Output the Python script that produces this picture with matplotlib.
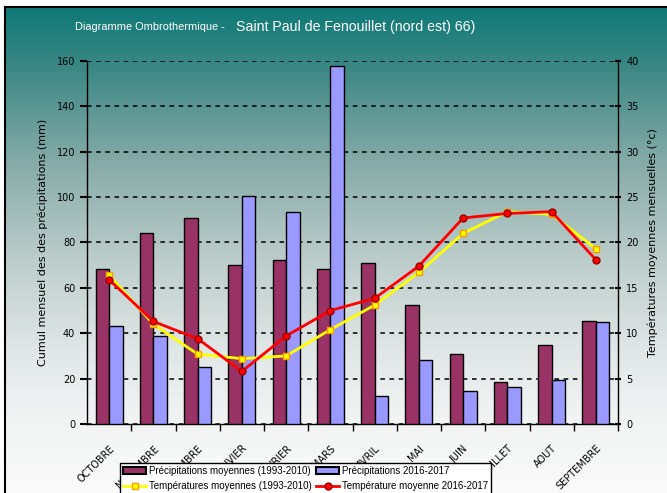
import numpy as np
import matplotlib
matplotlib.use("Agg")
import matplotlib.pyplot as plt
from matplotlib.colors import LinearSegmentedColormap
from matplotlib.lines import Line2D
from matplotlib.patches import Patch
from matplotlib import font_manager

months = ["OCTOBRE", "NOVEMBRE", "DECEMBRE", "JANVIER", "FEVRIER", "MARS",
          "AVRIL", "MAI", "JUIN", "JUILLET", "AOUT", "SEPTEMBRE"]
precip_mean = [68.2, 84.4, 90.6, 70.3, 72.5, 68.2, 70.8, 52.3, 30.7, 18.4, 34.7, 45.4]
precip_1617 = [43.2, 38.8, 25.1, 100.7, 93.3, 158.0, 12.2, 28.0, 14.5, 16.5, 19.4, 44.8]
temp_mean = [16.4, 11.0, 7.7, 7.2, 7.5, 10.4, 13.1, 16.7, 21.0, 23.4, 23.1, 19.3]
temp_1617 = [15.9, 11.3, 9.4, 5.8, 9.7, 12.5, 13.85, 17.4, 22.7, 23.2, 23.4, 18.1]

left_ticks = list(range(0, 161, 20))
right_ticks = list(range(0, 41, 5))

names = {f.name for f in font_manager.fontManager.ttflist}
NARROW = "Liberation Sans Narrow" if "Liberation Sans Narrow" in names else "Liberation Sans"
narrow_scale = 1.0 if NARROW == "Liberation Sans Narrow" else 0.83

W, H = 667, 493
fig = plt.figure(figsize=(W / 100, H / 100), dpi=100)
fig.patch.set_facecolor("white")

# background gradient panel with border
bg = fig.add_axes([5 / W, 0, (W - 5) / W, (H - 7) / H], zorder=0)
cmap = LinearSegmentedColormap.from_list(
    "g", [(0.0, "#0f7a77"), (0.12, "#3a8784"), (0.32, "#86aba8"),
          (0.52, "#bccdcb"), (0.7, "#dfe6e5"), (0.85, "#f2f4f4"), (1.0, "#fafafa")])
grad = np.linspace(0, 1, 256).reshape(-1, 1)
bg.imshow(grad, aspect="auto", cmap=cmap, extent=[0, 1, 0, 1], origin="upper")
bg.set_xlim(0, 1)
bg.set_ylim(0, 1)
bg.set_xticks([])
bg.set_yticks([])
for s in bg.spines.values():
    s.set_color("black")
    s.set_linewidth(1.5)
bg.spines["bottom"].set_visible(False)
bg.spines["right"].set_visible(False)

ax = fig.add_axes([87 / W, 1 - 424 / H, (618 - 87) / W, (424 - 61) / H], zorder=2)
ax.patch.set_alpha(0)
x = np.arange(len(months))
bw = 0.305
ax.bar(x - bw / 2, precip_mean, bw, color="#993366", edgecolor="black", linewidth=1.0, zorder=3)
ax.bar(x + bw / 2, precip_1617, bw, color="#9999ff", edgecolor="black", linewidth=1.0, zorder=3)
ax.set_xlim(-0.5, len(months) - 0.5)
ax.set_ylim(0, 160)
ax.set_yticks(left_ticks)
ax.set_yticklabels([str(t) for t in left_ticks], fontsize=7)
ax.yaxis.grid(True, linestyle=(0, (3, 3)), color="black", linewidth=1.1, zorder=1)
ax.set_axisbelow(True)
ax.set_xticks(x + 0.5, minor=False)
ax.set_xticklabels([])
ax.set_xticks(x, minor=True)
ax.set_xticklabels(months, minor=True, rotation=45, ha="right", va="top",
                   rotation_mode="anchor", fontsize=7)
ax.tick_params(axis="x", which="minor", length=0, pad=14)
ax.tick_params(axis="x", which="major", length=5, width=1, direction="out")
ax.tick_params(axis="y", length=5, width=1.5, direction="out")
ax.spines["top"].set_visible(False)
ax.spines["right"].set_visible(False)
for s in ["left", "bottom"]:
    ax.spines[s].set_linewidth(1.0)
ax.set_ylabel("Cumul mensuel des des précipitations (mm)", fontsize=8, labelpad=6)

ax2 = ax.twinx()
ax2.set_zorder(3)
ax2.patch.set_alpha(0)
ax2.plot(x, temp_mean, color="#ffff00", linewidth=2, marker="s", markersize=5,
         markerfacecolor="#ffff00", markeredgecolor="#ff9900", zorder=4)
ax2.plot(x, temp_1617, color="#ff0000", linewidth=2, marker="o", markersize=5,
         markerfacecolor="#ff0000", markeredgecolor="#990000", zorder=5)
ax2.set_ylim(0, 40)
ax2.set_yticks(right_ticks)
ax2.set_yticklabels([str(t) for t in right_ticks], fontsize=7)
ax2.tick_params(axis="y", length=5, width=1.5, direction="inout")
ax2.spines["top"].set_visible(False)
ax2.spines["left"].set_visible(False)
ax2.spines["bottom"].set_visible(False)
ax2.spines["right"].set_linewidth(1.0)
ax2.set_ylabel("Températures moyennes mensuelles (°c)", fontsize=8, labelpad=6)

# title
fig.text(228 / W, 1 - 27 / H, "Diagramme Ombrothermique - ", color="white",
         fontsize=9.5 * narrow_scale, ha="right", va="center", family=NARROW)
fig.text(236 / W, 1 - 27 / H, "Saint Paul de Fenouillet (nord est) 66)", color="white",
         fontsize=12.2 * narrow_scale, ha="left", va="center", family=NARROW)

handles = [
    Patch(facecolor="#993366", edgecolor="black", linewidth=1.5),
    Line2D([], [], color="#ffff00", linewidth=2, marker="s", markersize=5,
           markerfacecolor="#ffff00", markeredgecolor="#ff9900"),
    Patch(facecolor="#9999ff", edgecolor="black", linewidth=1.5),
    Line2D([], [], color="#ff0000", linewidth=2, marker="o", markersize=5,
           markerfacecolor="#ff0000", markeredgecolor="#990000"),
]
labels = ["Précipitations moyennes (1993-2010)", "Températures moyennes (1993-2010)",
          "Précipitations 2016-2017", "Température moyenne 2016-2017"]
leg = fig.legend(handles, labels, ncol=2, loc="upper left",
                 bbox_to_anchor=(115 / W, 1 - 458 / H),
                 prop={"family": NARROW, "size": 8.5 * narrow_scale},
                 frameon=True, fancybox=False, edgecolor="black", framealpha=1,
                 borderpad=0.3, handlelength=2.4, columnspacing=0.4,
                 handletextpad=0.3, labelspacing=0.55)
leg.get_frame().set_linewidth(1.0)
leg.set_zorder(10)

fig.savefig("out.png", dpi=100)
